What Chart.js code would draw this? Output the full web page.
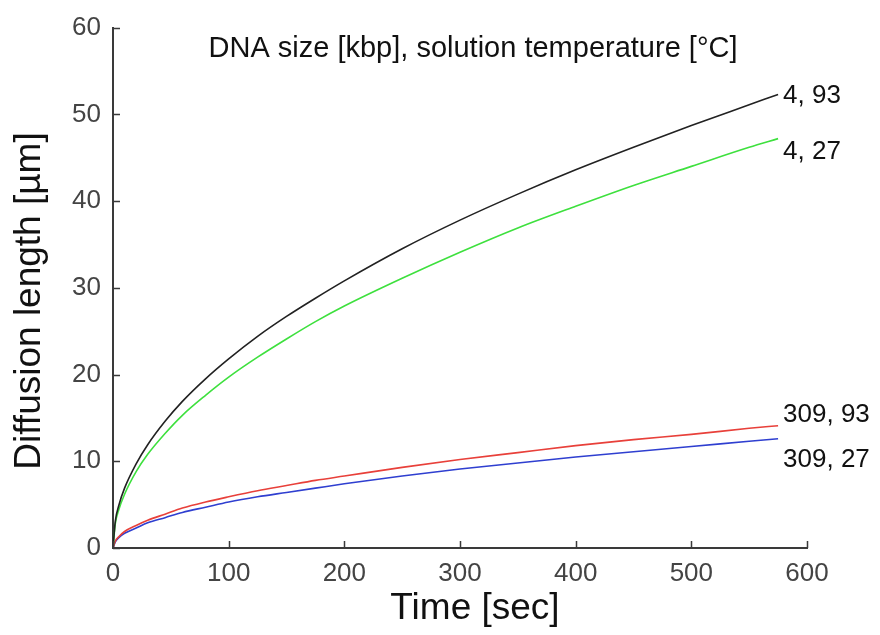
<!DOCTYPE html>
<html>
<head>
<meta charset="utf-8">
<title>Diffusion length</title>
<script src="https://cdn.jsdelivr.net/npm/chart.js@4.4.1/dist/chart.umd.min.js"></script>
<style>
    html, body { margin: 0; padding: 0; background: #fff; }
    #wrap { width: 880px; height: 635px; }
</style>
</head>
<body>
<div id="wrap"><canvas id="diffChart" width="880" height="635"></canvas></div>
<script>
// Données
const times = [0, 2, 5, 10, 20, 30, 45, 60, 80, 100, 125, 150, 175, 200, 250, 300, 350, 400, 450, 500, 550, 575];
const len4_93 = [0, 3.1, 4.9, 6.9, 9.7, 11.9, 14.6, 16.9, 19.5, 21.8, 24.4, 26.7, 28.8, 30.8, 34.5, 37.8, 40.8, 43.6, 46.2, 48.7, 51.1, 52.3];
const len4_27 = [0, 2.8, 4.4, 6.2, 8.8, 10.8, 13.2, 15.3, 17.6, 19.7, 22.0, 24.1, 26.1, 27.9, 31.1, 34.1, 36.9, 39.4, 41.8, 44.0, 46.2, 47.2];
const len309_93 = [0, 0.8, 1.3, 1.9, 2.6, 3.2, 3.9, 4.6, 5.3, 5.9, 6.6, 7.2, 7.8, 8.3, 9.3, 10.2, 11.0, 11.8, 12.5, 13.1, 13.8, 14.1];
const len309_27 = [0, 0.7, 1.2, 1.7, 2.3, 2.9, 3.5, 4.1, 4.7, 5.3, 5.9, 6.4, 6.9, 7.4, 8.3, 9.1, 9.8, 10.5, 11.1, 11.7, 12.3, 12.6];
const seriesLabels = ['4, 93', '4, 27', '309, 93', '309, 27'];
const xTicks = [0, 100, 200, 300, 400, 500, 600];
const yTicks = [0, 10, 20, 30, 40, 50, 60];

const FONT = '"Liberation Sans", Arial, Helvetica, sans-serif';
const AXIS_COLOR = '#3a3a3a';

function toPoints(ys) {
    return times.map((t, i) => ({ x: t, y: ys[i] }));
}

// Décalages des étiquettes par rapport à la fin de chaque courbe
const labelOffsets = [
    { dx: 5, dy: 1 },
    { dx: 5, dy: 13 },
    { dx: 5, dy: -11 },
    { dx: 5, dy: 21 }
];

// Plugin : graduations vers l'intérieur, textes et titres
const decorPlugin = {
    id: 'decor',
    afterDatasetsDraw(chart) {
        const ctx = chart.ctx;
        const xs = chart.scales.x;
        const ys = chart.scales.y;
        const area = chart.chartArea;

        ctx.save();
        ctx.strokeStyle = AXIS_COLOR;
        ctx.lineWidth = 1.5;
        ctx.beginPath();
        xTicks.forEach(v => {
            const px = Math.round(xs.getPixelForValue(v)) + 0.5;
            ctx.moveTo(px, area.bottom);
            ctx.lineTo(px, area.bottom - 7);
        });
        yTicks.forEach(v => {
            const py = Math.round(ys.getPixelForValue(v)) + 0.5;
            ctx.moveTo(area.left, py);
            ctx.lineTo(area.left + 7, py);
        });
        ctx.stroke();

        // Étiquettes des courbes
        ctx.fillStyle = '#111';
        ctx.font = '26px ' + FONT;
        ctx.textAlign = 'left';
        ctx.textBaseline = 'middle';
        chart.data.datasets.forEach((ds, i) => {
            const last = ds.data[ds.data.length - 1];
            const px = xs.getPixelForValue(last.x) + labelOffsets[i].dx;
            const py = ys.getPixelForValue(last.y) + labelOffsets[i].dy;
            ctx.fillText(seriesLabels[i], px, py);
        });

        // Titre dans le graphique
        ctx.font = '29px ' + FONT;
        ctx.textAlign = 'center';
        ctx.fillText('DNA size [kbp], solution temperature [°C]', 473, 49);

        // Titres des axes
        ctx.font = '37px ' + FONT;
        ctx.fillText('Time [sec]', 475, 609);
        ctx.translate(30, 301);
        ctx.rotate(-Math.PI / 2);
        ctx.fillText('Diffusion length [µm]', 0, 0);
        ctx.restore();
    }
};

document.addEventListener('DOMContentLoaded', function() {
    const ctx = document.getElementById('diffChart');
    new Chart(ctx, {
        type: 'line',
        data: {
            datasets: [
                { data: toPoints(len4_93), borderColor: '#222222' },
                { data: toPoints(len4_27), borderColor: '#3ee03e' },
                { data: toPoints(len309_93), borderColor: '#e8403a' },
                { data: toPoints(len309_27), borderColor: '#2f3fd0' }
            ].map(ds => Object.assign(ds, {
                borderWidth: 1.6,
                pointRadius: 0,
                fill: false,
                cubicInterpolationMode: 'monotone'
            }))
        },
        options: {
            responsive: false,
            animation: false,
            layout: { padding: { top: 22, right: 73, left: 0, bottom: 0 } },
            plugins: {
                legend: { display: false },
                tooltip: { enabled: false }
            },
            scales: {
                x: {
                    type: 'linear',
                    min: 0,
                    max: 600,
                    afterFit: s => { s.height = 87; },
                    afterBuildTicks: s => { s.ticks = xTicks.map(v => ({ value: v })); },
                    grid: { display: false, drawTicks: false },
                    border: { display: true, color: AXIS_COLOR, width: 2 },
                    ticks: {
                        padding: 10,
                        color: '#444',
                        font: { family: FONT, size: 26 }
                    }
                },
                y: {
                    type: 'linear',
                    min: 0,
                    max: 60,
                    afterFit: s => { s.width = 113; },
                    afterBuildTicks: s => { s.ticks = yTicks.map(v => ({ value: v })); },
                    grid: { display: false, drawTicks: false },
                    border: { display: true, color: AXIS_COLOR, width: 2 },
                    ticks: {
                        padding: 12,
                        color: '#444',
                        font: { family: FONT, size: 26 }
                    }
                }
            }
        },
        plugins: [decorPlugin]
    });
});
</script>
</body>
</html>
